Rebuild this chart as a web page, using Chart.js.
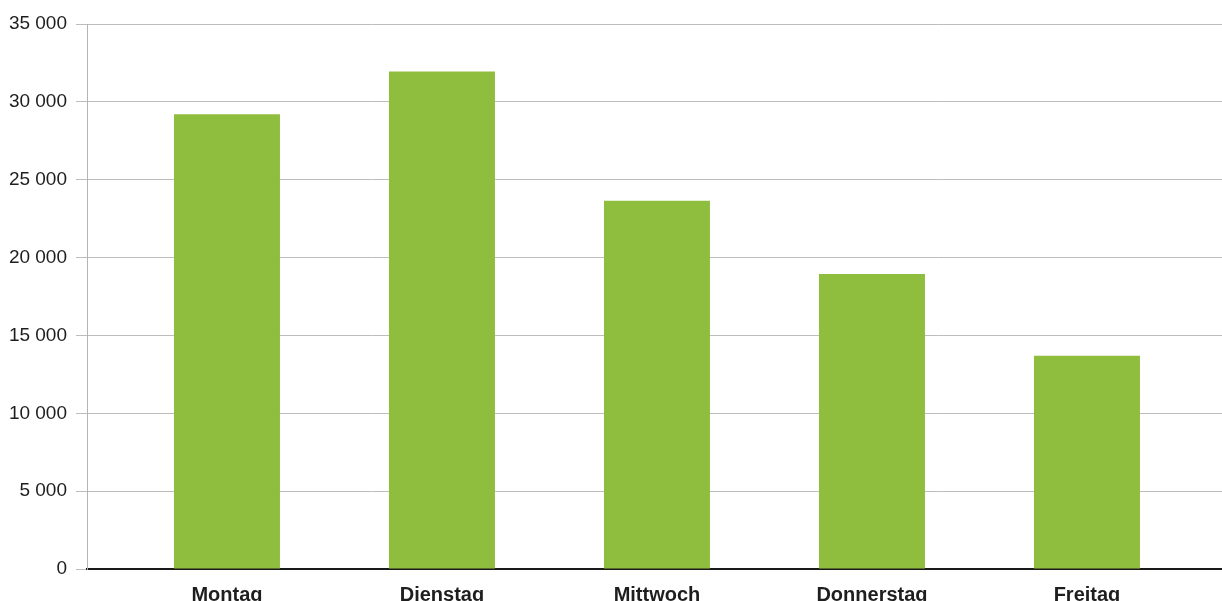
<!DOCTYPE html>
<html>
<head>
<meta charset="utf-8">
<script src="https://cdn.jsdelivr.net/npm/chart.js@4"></script>
<style>
  html, body { margin: 0; padding: 0; background: #fff; }
  #wrap { width: 1222px; height: 601px; position: relative; }
</style>
</head>
<body>
<div id="wrap"><canvas id="c"></canvas></div>
<script>
const categories = ["Montag", "Dienstag", "Mittwoch", "Donnerstag", "Freitag"];
const values = [29200, 31950, 23650, 18950, 13700];
const yTicks = [0, 5000, 10000, 15000, 20000, 25000, 30000, 35000];

function fmt(v) {
  return String(v).replace(/\B(?=(\d{3})+(?!\d))/g, " ");
}

new Chart(document.getElementById("c"), {
  type: "bar",
  data: {
    datasets: [{
      data: values.map((v, i) => ({ x: i, y: v })),
      backgroundColor: "#8fbe3f",
      borderWidth: 0,
      categoryPercentage: 1,
      barPercentage: 0.493
    }]
  },
  options: {
    responsive: true,
    maintainAspectRatio: false,
    devicePixelRatio: 1,
    animation: false,
    layout: { padding: { top: 24, right: 0, left: 0, bottom: 0 } },
    plugins: { legend: { display: false }, tooltip: { enabled: false } },
    scales: {
      x: {
        type: "linear",
        offset: false,
        bounds: "data",
        min: -0.651,
        max: 4.628,
        afterBuildTicks: (s) => { s.ticks = categories.map((_, i) => ({ value: i })); },
        afterFit: (s) => { s.height = 32; },
        grid: { display: false, drawTicks: false, offset: false },
        border: { display: true, color: "#1a1a1a", width: 2 },
        ticks: {
          padding: 14,
          autoSkip: false,
          maxRotation: 0,
          color: "#1e1e1e",
          font: { family: "'Liberation Sans', Arial, sans-serif", size: 20, weight: "bold" },
          callback: (v) => categories[v] !== undefined ? categories[v] : ""
        }
      },
      y: {
        min: 0,
        max: 35000,
        afterBuildTicks: (s) => { s.ticks = yTicks.map(v => ({ value: v })); },
        afterFit: (s) => { s.width = 87; },
        grid: { color: "#bdbdbd", lineWidth: 1, tickLength: 11, drawTicks: true },
        border: { display: true, color: "#b5b5b5", width: 1 },
        ticks: {
          padding: 9,
          color: "#1e1e1e",
          font: { family: "'Liberation Sans', Arial, sans-serif", size: 19 },
          callback: (v) => fmt(v)
        }
      }
    }
  }
});
</script>
</body>
</html>
